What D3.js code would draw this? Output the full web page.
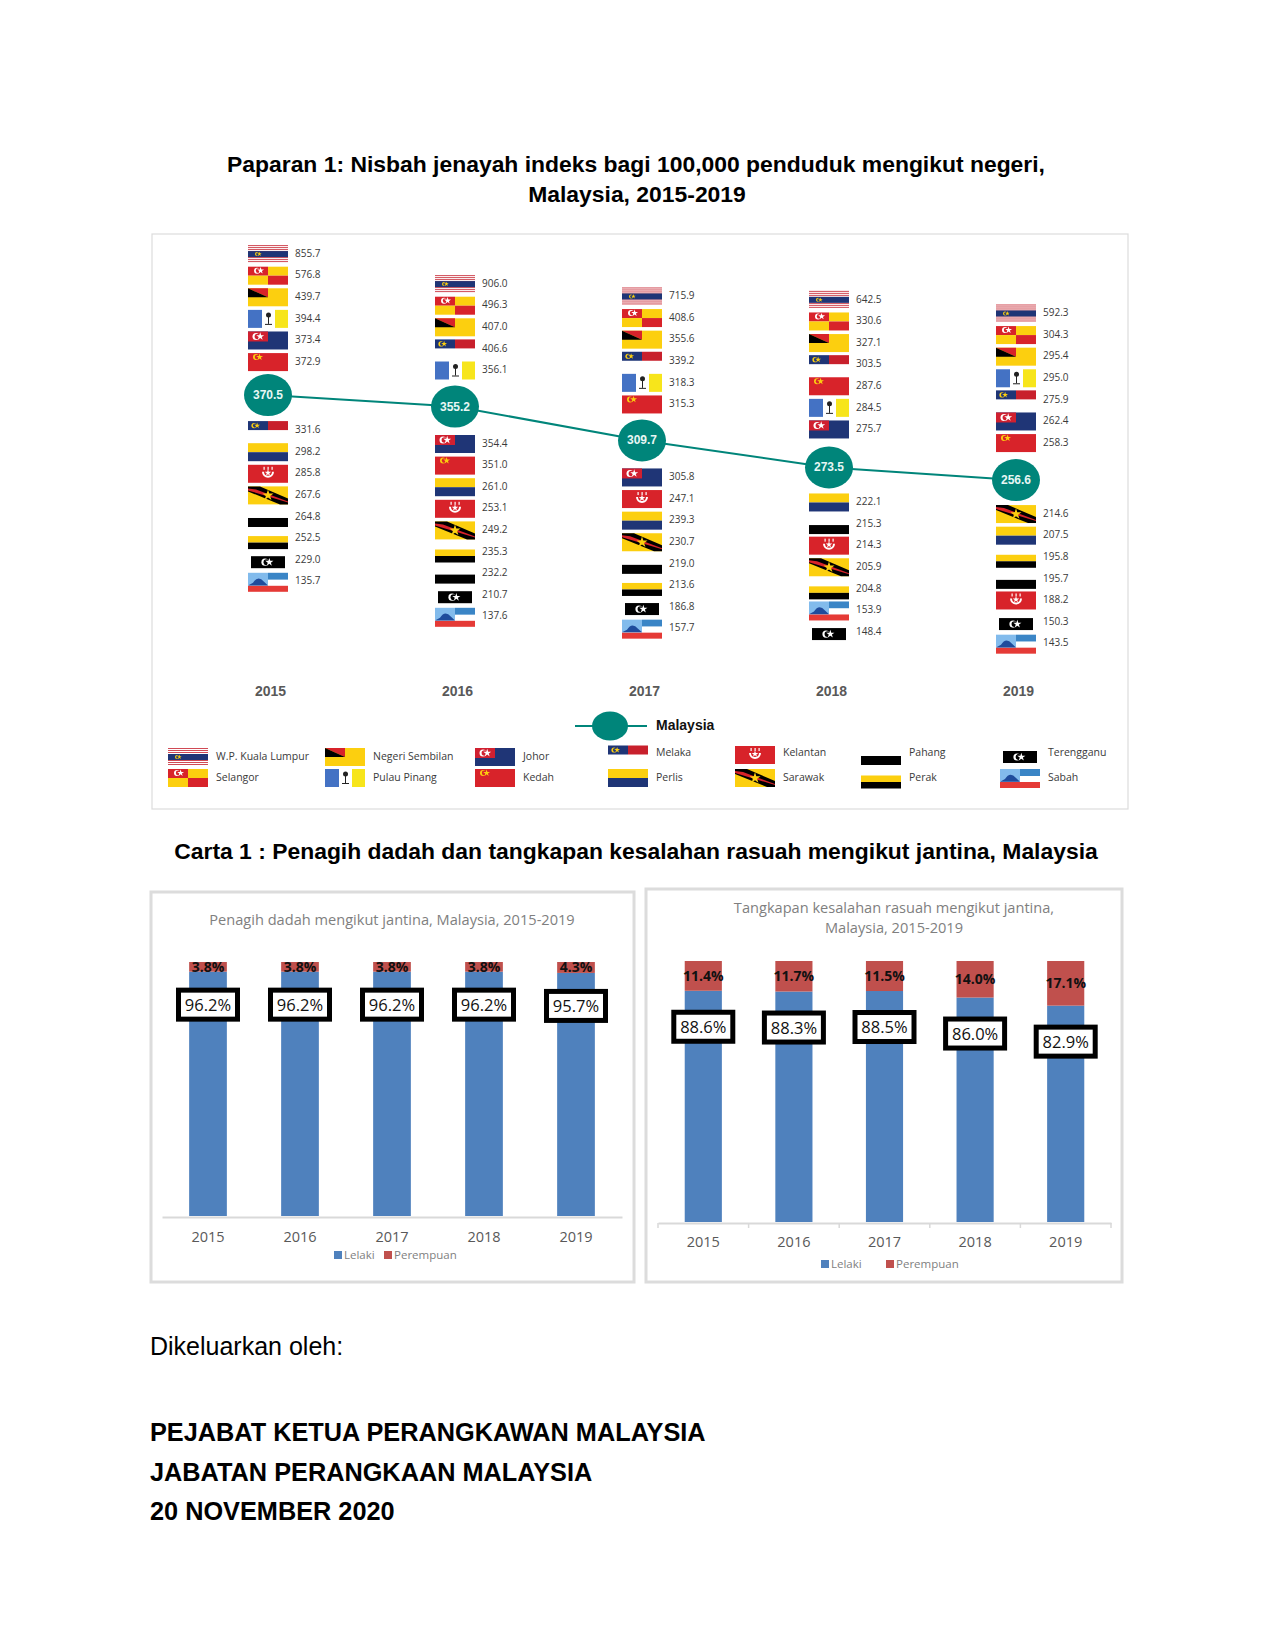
<!DOCTYPE html>
<html>
<head>
<meta charset="utf-8">
<title>Paparan 1 dan Carta 1</title>
<script src="https://cdn.jsdelivr.net/npm/d3@7"></script>
<style>
  html, body { margin: 0; padding: 0; background: #fff; }
  svg { display: block; }
  text { font-family: "Open Sans", sans-serif; }
  .doc { font-family: "Liberation Sans", Arial, sans-serif; fill: #000; font-size: 25px; }
  .doc.b { font-weight: bold; }
  .val { font-size: 10px; fill: #3a3a3a; dominant-baseline: middle; }
  .leg { font-size: 10.5px; fill: #3a3a3a; dominant-baseline: middle; }
  .panel { fill: #fff; stroke: #dcdcdc; }
</style>
</head>
<body>
<div id="chart"></div>
<script>
// years and national rate
var years = ["2015", "2016", "2017", "2018", "2019"];
var malaysia = [370.5, 355.2, 309.7, 273.5, 256.6];

// crime rate per 100,000 by state, same order as years
var kualaLumpur = [855.7, 906.0, 715.9, 642.5, 592.3];
var selangor = [576.8, 496.3, 408.6, 330.6, 304.3];
var negeriSembilan = [439.7, 407.0, 355.6, 327.1, 295.4];
var pulauPinang = [394.4, 356.1, 318.3, 284.5, 295.0];
var johor = [373.4, 354.4, 305.8, 275.7, 262.4];
var kedah = [372.9, 351.0, 315.3, 287.6, 258.3];
var melaka = [331.6, 406.6, 339.2, 303.5, 275.9];
var perlis = [298.2, 261.0, 239.3, 222.1, 207.5];
var kelantan = [285.8, 253.1, 247.1, 214.3, 188.2];
var sarawak = [267.6, 249.2, 230.7, 205.9, 214.6];
var pahang = [264.8, 232.2, 219.0, 215.3, 195.7];
var perak = [252.5, 235.3, 213.6, 204.8, 195.8];
var terengganu = [229.0, 210.7, 186.8, 148.4, 150.3];
var sabah = [135.7, 137.6, 157.7, 153.9, 143.5];

// penagih dadah (%)
var dadahLelaki = [96.2, 96.2, 96.2, 96.2, 95.7];
var dadahPerempuan = [3.8, 3.8, 3.8, 3.8, 4.3];

// tangkapan rasuah (%)
var rasuahLelaki = [88.6, 88.3, 88.5, 86.0, 82.9];
var rasuahPerempuan = [11.4, 11.7, 11.5, 14.0, 17.1];

var states = [
  { name: "W.P. Kuala Lumpur", key: "kl", values: kualaLumpur },
  { name: "Selangor", key: "sel", values: selangor },
  { name: "Negeri Sembilan", key: "ns", values: negeriSembilan },
  { name: "Pulau Pinang", key: "pen", values: pulauPinang },
  { name: "Johor", key: "joh", values: johor },
  { name: "Kedah", key: "ked", values: kedah },
  { name: "Melaka", key: "mel", values: melaka },
  { name: "Perlis", key: "per", values: perlis },
  { name: "Kelantan", key: "kel", values: kelantan },
  { name: "Sarawak", key: "sar", values: sarawak },
  { name: "Pahang", key: "pah", values: pahang },
  { name: "Perak", key: "prk", values: perak },
  { name: "Terengganu", key: "ter", values: terengganu },
  { name: "Sabah", key: "sab", values: sabah }
];

var RED = "#d8232a", YEL = "#fccf0f", NAVY = "#1f3576", BLUE = "#4472c4", TEAL = "#00857a";

var svg = d3.select("#chart").append("svg").attr("width", 1275).attr("height", 1650);

// ---------- flags, each drawn around 0,0 in a 40x18 box ----------
function box(g, x, y, w, h, fill) {
  g.append("rect").attr("x", x).attr("y", y).attr("width", w).attr("height", h).attr("fill", fill);
}
function poly(g, pts, fill) {
  g.append("polygon").attr("points", pts).attr("fill", fill);
}
function crescent(g, cx, cy, r, fg, bg) {
  g.append("circle").attr("cx", cx).attr("cy", cy).attr("r", r).attr("fill", fg);
  g.append("circle").attr("cx", cx + r * 0.4).attr("cy", cy).attr("r", r * 0.8).attr("fill", bg);
  star(g, cx + r * 1.2, cy, r * r * 1.6, fg);
}
function star(g, x, y, size, fill) {
  g.append("path").attr("d", d3.symbol(d3.symbolStar, size)).attr("transform", "translate(" + x + "," + y + ")").attr("fill", fill);
}

var flags = {
  kl: function (g) {
    d3.range(-9, 9, 2).forEach(function (y) { box(g, -20, y, 40, 1, "#d04a55"); });
    box(g, -20, -3, 40, 6, NAVY);
    crescent(g, -11, 0, 2, YEL, NAVY);
  },
  sel: function (g) {
    box(g, -20, -9, 20, 9, RED); box(g, 0, -9, 20, 9, YEL);
    box(g, -20, 0, 20, 9, YEL); box(g, 0, 0, 20, 9, RED);
    crescent(g, -11, -5, 3, "#fff", RED);
  },
  ns: function (g) {
    box(g, -20, -9, 40, 18, YEL);
    poly(g, "-20,-9 0,-9 0,0", RED);
    poly(g, "-20,-9 0,0 -20,0", "#000");
  },
  pen: function (g) {
    box(g, -20, -9, 14, 18, BLUE); box(g, 7, -9, 13, 18, "#f7e51b");
    box(g, 0, -4, 1, 9, "#222");
    box(g, -3, 5, 7, 1, "#222");
    g.append("circle").attr("cx", 0.5).attr("cy", -4).attr("r", 2.5).attr("fill", "#222");
  },
  joh: function (g) {
    box(g, -20, -9, 40, 18, NAVY); box(g, -20, -9, 20, 10, "#d02030");
    crescent(g, -12, -4, 3.5, "#fff", "#d02030");
  },
  ked: function (g) {
    box(g, -20, -9, 40, 18, RED);
    crescent(g, -12, -5, 3, YEL, RED);
  },
  mel: function (g) {
    box(g, -20, -9.5, 20, 9, NAVY); box(g, 0, -9.5, 20, 9, "#c8202c");
    crescent(g, -14, -5, 2.6, YEL, NAVY);
  },
  per: function (g) {
    box(g, -20, -9, 40, 9, YEL); box(g, -20, 0, 40, 9, NAVY);
  },
  kel: function (g) {
    box(g, -20, -9, 40, 18, RED);
    g.append("path").attr("d", "M-5,-2 A5,5 0 0,0 5,-2").attr("fill", "none").attr("stroke", "#fff").attr("stroke-width", 2);
    star(g, 0, -1, 14, "#fff");
    d3.range(-4, 5, 4).forEach(function (x) { box(g, x - 0.5, -7, 1.2, 3, "#fff"); });
  },
  sar: function (g) {
    box(g, -20, -9, 40, 18, YEL);
    poly(g, "-20,-9 -8,-9 20,3 20,9 12,9 -20,-4", "#000");
    poly(g, "-20,-7 -12,-6 20,6 20,7 -20,-5", RED);
    star(g, 0, 0, 38, YEL);
  },
  pah: function (g) {
    box(g, -20, 1, 40, 9, "#000");
  },
  prk: function (g) {
    box(g, -20, -2.5, 40, 6.5, YEL); box(g, -20, 4, 40, 6.5, "#000");
  },
  ter: function (g) {
    box(g, -17, -4, 34, 12, "#000");
    crescent(g, -3, 2, 3.6, "#fff", "#000");
  },
  sab: function (g) {
    box(g, -20, -9, 20, 12.7, "#82bbec"); box(g, 0, -9, 20, 7, "#3a85c6");
    box(g, 0, -2, 20, 6, "#fff");
    box(g, -20, 4, 40, 6, "#e53a36");
    g.append("path").attr("d", "M-20,3.7 L-15,1 Q-10,-7 -4,0 L0,3.7 Z").attr("fill", "#1f4c9c");
  }
};

// ---------- doc headings ----------
function heading(txt, x, y, anchor, bold, size) {
  svg.append("text").attr("class", "doc" + (bold ? " b" : ""))
    .attr("x", x).attr("y", y).attr("text-anchor", anchor)
    .style("font-size", size + "px").text(txt);
}
heading("Paparan 1: Nisbah jenayah indeks bagi 100,000 penduduk mengikut negeri,", 636, 172, "middle", true, 22.9);
heading("Malaysia, 2015-2019", 637, 202, "middle", true, 22.9);
heading("Carta 1 : Penagih dadah dan tangkapan kesalahan rasuah mengikut jantina, Malaysia", 636, 859, "middle", true, 22.9);
heading("Dikeluarkan oleh:", 150, 1355, "start", false, 25);
heading("PEJABAT KETUA PERANGKAWAN MALAYSIA", 150, 1441, "start", true, 25.3);
heading("JABATAN PERANGKAAN MALAYSIA", 150, 1481, "start", true, 25.3);
heading("20 NOVEMBER 2020", 150, 1520, "start", true, 25.3);

// ---------- flag chart ----------
svg.append("rect").attr("class", "panel").attr("x", 152).attr("y", 234).attr("width", 976).attr("height", 575).attr("stroke-width", 1.2);

var xYear = d3.scalePoint().domain(years).range([268, 1016]);
var yRate = d3.scaleLinear().domain([250, 380]).range([485, 388]);

var line = d3.line().x(function (d, i) { return xYear(years[i]); }).y(function (d) { return yRate(d); });
svg.append("path").datum(malaysia).attr("d", line).attr("fill", "none").attr("stroke", TEAL).attr("stroke-width", 2);

// spacing of flag rows, and gap to the national bubble for each year
var STEP = 21.6;
var clearAbove = [33, 36, 36, 38, 37];
var clearBelow = [35.5, 37.5, 37, 35, 34];

years.forEach(function (yr, i) {
  var sorted = d3.sort(states, function (s) { return -s.values[i]; });
  var above = sorted.filter(function (s) { return s.values[i] > malaysia[i]; });
  var below = sorted.filter(function (s) { return s.values[i] <= malaysia[i]; });
  var cy = yRate(malaysia[i]);

  var rows = above.map(function (s, k) { return { s: s, y: cy - clearAbove[i] - (above.length - 1 - k) * STEP }; })
    .concat(below.map(function (s, k) { return { s: s, y: cy + clearBelow[i] + k * STEP }; }));

  var col = svg.append("g").attr("transform", "translate(" + xYear(yr) + ",0)");
  var row = col.selectAll("g.row").data(rows).enter().append("g")
    .attr("class", "row")
    .attr("transform", function (d) { return "translate(0," + d.y + ")"; });
  row.each(function (d) { flags[d.s.key](d3.select(this)); });
  row.append("text").attr("class", "val").attr("x", 27).attr("y", 0)
    .text(function (d) { return d.s.values[i].toFixed(1); });

  col.append("ellipse").attr("cx", 0).attr("cy", cy).attr("rx", 24).attr("ry", 21).attr("fill", TEAL);
  col.append("text").attr("x", 0).attr("y", cy + 4).attr("text-anchor", "middle")
    .style("font-family", "'Liberation Sans', Arial, sans-serif")
    .style("font-size", "12px").style("font-weight", "bold").attr("fill", "#e8f7f4")
    .text(malaysia[i].toFixed(1));
});

var yearAxis = svg.append("g").attr("transform", "translate(2,691)")
  .call(d3.axisBottom(xYear).tickSize(0).tickPadding(0));
yearAxis.select(".domain").remove();
yearAxis.selectAll("text").attr("dy", "0.35em").attr("y", 0)
  .style("font-family", "'Liberation Sans', Arial, sans-serif")
  .style("font-size", "14px").style("font-weight", "bold").attr("fill", "#595959");

// legend
svg.append("line").attr("x1", 575).attr("x2", 647).attr("y1", 726).attr("y2", 726).attr("stroke", TEAL).attr("stroke-width", 2);
svg.append("ellipse").attr("cx", 610).attr("cy", 726).attr("rx", 18).attr("ry", 14.5).attr("fill", TEAL);
svg.append("text").attr("x", 656).attr("y", 730)
  .style("font-family", "'Liberation Sans', Arial, sans-serif")
  .style("font-size", "14px").style("font-weight", "bold").attr("fill", "#111").text("Malaysia");

var legendX = [188, 345, 495, 628, 755, 881, 1020];
var legendTop = [757, 757, 757, 755, 755, 755, 755];
var LEGEND_BOTTOM = 778;
states.forEach(function (s, i) {
  var c = Math.floor(i / 2), y = i % 2 ? LEGEND_BOTTOM : legendTop[c];
  var g = svg.append("g").attr("transform", "translate(" + legendX[c] + "," + y + ")");
  flags[s.key](g);
  g.append("text").attr("class", "leg").attr("x", 28).attr("y", (i % 2 == 0 && c > 2) ? -2 : 0).text(s.name);
});

// ---------- stacked bars ----------
function genderChart(opt) {
  svg.append("rect").attr("class", "panel").attr("x", opt.box[0]).attr("y", opt.box[1])
    .attr("width", opt.box[2]).attr("height", opt.box[3]).attr("stroke-width", 3);

  opt.title.forEach(function (t, i) {
    svg.append("text").attr("x", opt.titleX).attr("y", opt.titleY + i * 20).attr("text-anchor", "middle")
      .style("font-size", "14.6px").attr("fill", "#7f7f7f").text(t);
  });

  var x = d3.scaleBand().domain(years).range(opt.xRange).paddingInner(0.59).paddingOuter(0.295);
  var y = d3.scaleLinear().domain([0, 100]).range([opt.base, opt.top]);

  var table = years.map(function (yr, i) { return { year: yr, lelaki: opt.lelaki[i], perempuan: opt.perempuan[i] }; });
  var series = d3.stack().keys(["lelaki", "perempuan"])(table);
  var colour = d3.scaleOrdinal().domain(["lelaki", "perempuan"]).range(["#4f81bd", "#c0504d"]);

  svg.selectAll(null).data(series).enter().append("g")
    .attr("fill", function (d) { return colour(d.key); })
    .selectAll("rect").data(function (d) { return d; }).enter().append("rect")
    .attr("x", function (d) { return x(d.data.year); })
    .attr("width", x.bandwidth())
    .attr("y", function (d) { return y(d[1]); })
    .attr("height", function (d) { return y(d[0]) - y(d[1]); });

  var axis = svg.append("g").attr("transform", "translate(0," + (opt.base + 1) + ")")
    .call(d3.axisBottom(x).tickSize(0).tickPadding(opt.tickPad));
  axis.select(".domain").attr("stroke", "#d9d9d9").attr("stroke-width", 2);
  axis.selectAll("text").style("font-size", "14.5px").style("font-family", "'Open Sans', sans-serif").attr("fill", "#595959");

  if (opt.boundaryTicks) {
    axis.selectAll("line.bound").data(d3.range(0, 6)).enter().append("line").attr("class", "bound")
      .attr("x1", function (d) { return opt.xRange[0] + d * x.step(); })
      .attr("x2", function (d) { return opt.xRange[0] + d * x.step(); })
      .attr("y1", 0).attr("y2", 5).attr("stroke", "#d9d9d9").attr("stroke-width", 1.5);
  }

  // women labels, centred in the red part
  svg.selectAll(null).data(series[1]).enter().append("text")
    .attr("x", function (d) { return x(d.data.year) + x.bandwidth() / 2; })
    .attr("y", function (d) { return (y(d[0]) + y(d[1])) / 2 + 5; })
    .attr("text-anchor", "middle").style("font-size", "14px").style("font-weight", "bold").attr("fill", "#111")
    .text(function (d) { return d.data.perempuan.toFixed(1) + "%"; });

  // men labels, in thick black boxes
  var lab = svg.selectAll(null).data(table).enter().append("g")
    .attr("transform", function (d) {
      return "translate(" + (x(d.year) + x.bandwidth() / 2) + "," + (y(d.lelaki) + opt.labelDrop) + ")";
    });
  lab.append("rect").attr("x", -29.5).attr("y", -14.5).attr("width", 59).attr("height", 29)
    .attr("fill", "#fff").attr("stroke", "#000").attr("stroke-width", 5);
  lab.append("text").attr("y", 6).attr("text-anchor", "middle").style("font-size", "16.5px").attr("fill", "#111")
    .text(function (d) { return d.lelaki.toFixed(1) + "%"; });

  // legend
  var names = ["Lelaki", "Perempuan"];
  names.forEach(function (n, i) {
    svg.append("rect").attr("x", opt.legend[i]).attr("y", opt.legendY - 4).attr("width", 8).attr("height", 8)
      .attr("fill", colour(n.toLowerCase()));
    svg.append("text").attr("x", opt.legend[i] + 10).attr("y", opt.legendY + 4)
      .style("font-size", "11.5px").attr("fill", "#7f7f7f").text(n);
  });
}

genderChart({
  box: [151, 892, 483, 390], title: ["Penagih dadah mengikut jantina, Malaysia, 2015-2019"], titleX: 392, titleY: 925,
  xRange: [162, 622], top: 962, base: 1216, tickPad: 15, labelDrop: 33,
  lelaki: dadahLelaki, perempuan: dadahPerempuan, legend: [334, 384], legendY: 1255, boundaryTicks: false
});
genderChart({
  box: [646, 889, 476, 393], title: ["Tangkapan kesalahan rasuah mengikut jantina,", "Malaysia, 2015-2019"], titleX: 894, titleY: 913,
  xRange: [658, 1111], top: 961, base: 1222, tickPad: 14, labelDrop: 36,
  lelaki: rasuahLelaki, perempuan: rasuahPerempuan, legend: [821, 886], legendY: 1264, boundaryTicks: true
});
</script>
</body>
</html>
